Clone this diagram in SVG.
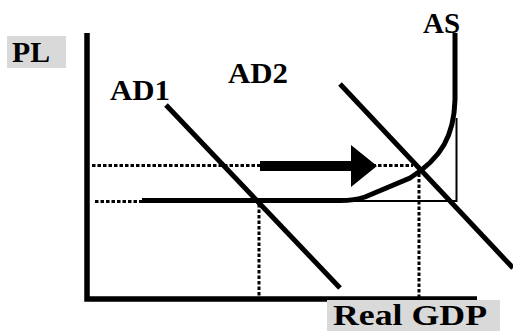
<svg xmlns="http://www.w3.org/2000/svg" width="513" height="331" viewBox="0 0 513 331">
<style>
.lbl{font-family:"Liberation Serif","Times New Roman",serif;font-weight:bold;font-size:30px;fill:#000}
.box{fill:#d9d9d9}
.axis{stroke:#000;stroke-width:5.5;fill:none}
.curve{stroke:#000;stroke-width:5;fill:none}
.thin{stroke:#000;stroke-width:2;fill:none}
.dot{stroke:#000;stroke-width:3;fill:none;stroke-dasharray:3.5 2}
</style>
<rect width="513" height="331" fill="#fff"/>
<g id="axes">
<path class="axis" d="M87,33 V299 H477"/>
</g>
<g id="pl-label">
<rect class="box" x="7" y="36" width="59" height="32"/>
<text class="lbl" x="12" y="62" textLength="38" lengthAdjust="spacingAndGlyphs">PL</text>
</g>
<g id="realgdp-label">
<rect class="box" x="327" y="300" width="173" height="31"/>
<text class="lbl" x="333" y="325" textLength="154" lengthAdjust="spacingAndGlyphs">Real GDP</text>
</g>
<g id="connectors">
<path class="dot" d="M92,165.5 H413"/>
<path class="dot" d="M95,201.5 H142"/>
<path class="dot" d="M259,204 V297"/>
<path class="dot" d="M419,168 V297"/>
<path class="thin" d="M456.5,118 V201 H340"/>
</g>
<g id="ad1">
<path class="curve" d="M166,105 L340,288"/>
<text class="lbl" x="110" y="100" textLength="60" lengthAdjust="spacingAndGlyphs">AD1</text>
</g>
<g id="ad2">
<path class="curve" d="M340,84 L513,268"/>
<text class="lbl" x="228" y="83" textLength="60" lengthAdjust="spacingAndGlyphs">AD2</text>
</g>
<g id="as">
<path class="curve" d="M455,33 L455,100 C454,135 442,158 410,178 L365,197 Q355,200.5 340,200.5 L142,200.5"/>
<text class="lbl" x="423" y="33" textLength="37" lengthAdjust="spacingAndGlyphs">AS</text>
</g>
<g id="shift-arrow">
<polygon points="260,161 351,161 351,145 377,166 351,187 351,171 260,171" fill="#000"/>
</g>
</svg>
